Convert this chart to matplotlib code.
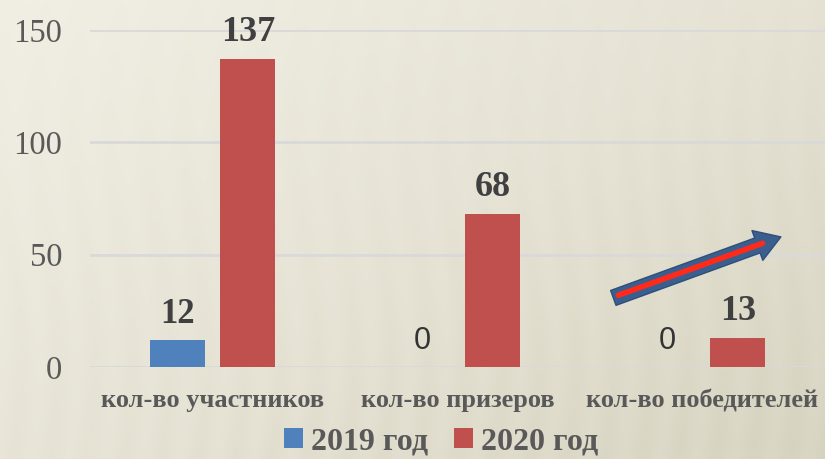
import numpy as np
import matplotlib
matplotlib.use("Agg")
import matplotlib.pyplot as plt
from matplotlib.colors import LinearSegmentedColormap

# Data
categories = ['кол-во участников', 'кол-во призеров', 'кол-во победителей']
series_names = ['2019 год', '2020 год']
values_2019 = [12, 0, 0]
values_2020 = [137, 68, 13]
yticks = [0, 50, 100, 150]

BLUE = '#4f81bd'
RED = '#c0504d'
SERIF = ['Liberation Serif', 'DejaVu Serif']
SANS = ['Liberation Sans', 'DejaVu Sans']

fig = plt.figure(figsize=(8.25, 4.59), dpi=100)

# textured beige background
bg = fig.add_axes([0, 0, 1, 1], zorder=-10)
bg.axis('off')
xx, yy = np.meshgrid(np.linspace(0, 1, 825), np.linspace(0, 1, 459))
shade = 0.55 * xx + 0.45 * yy
shade += 0.04 * np.sin(xx * 140 + 2 * np.sin(yy * 6)) * (0.4 + yy)
cmap = LinearSegmentedColormap.from_list('bg', ['#f1efe4', '#e6e3d5', '#d5d2bf'])
bg.imshow(shade, cmap=cmap, aspect='auto', extent=[0, 1, 0, 1], origin='upper')
bg.set_xlim(0, 1)
bg.set_ylim(0, 1)

ax = fig.add_axes([90 / 825, 92 / 459, 735 / 825, 337 / 459])
ax.patch.set_alpha(0)

x = np.arange(len(categories))
w = 0.2245
off = 0.144
b1 = ax.bar(x - off, values_2019, w, color=BLUE, label=series_names[0], zorder=3)
b2 = ax.bar(x + off, values_2020, w, color=RED, label=series_names[1], zorder=3)

ax.set_xlim(-0.5, len(categories) - 0.5)
ax.set_ylim(0, 150)
ax.set_yticks(yticks)
ax.yaxis.grid(True, color='#d9d9d9', linewidth=2, zorder=0)
for s in ax.spines.values():
    s.set_visible(False)
ax.axhline(0, color='#d9d9d9', linewidth=2, zorder=1)
ax.tick_params(length=0)
ax.tick_params(axis='y', pad=20)
ax.tick_params(axis='x', pad=16)
for lab in ax.get_yticklabels():
    lab.set_family(SERIF)
    lab.set_fontsize(23.5)
    lab.set_color('#595959')
ax.set_xticks(x)
ax.set_xticklabels(categories, family=SERIF, fontsize=19, fontweight='bold', color='#595959')

# value labels
for xi, v in zip(x - off, values_2019):
    if v == 0:
        ax.annotate('0', (xi, v), xytext=(0, 13), textcoords='offset points',
                    ha='center', va='baseline', family=SANS, fontsize=22, color='#333333')
    else:
        ax.annotate(str(v), (xi, v), xytext=(0, 12), textcoords='offset points',
                    ha='center', va='baseline', family=SERIF, fontsize=25,
                    fontweight='bold', color='#404040')
for xi, v in zip(x + off, values_2020):
    ax.annotate(str(v), (xi, v), xytext=(0, 13), textcoords='offset points',
                ha='center', va='baseline', family=SERIF, fontsize=26,
                fontweight='bold', color='#404040', annotation_clip=False)

# growth arrow
ax.annotate('', xy=(0.940, 0.386), xytext=(0.712, 0.205), xycoords='axes fraction',
            arrowprops=dict(arrowstyle='simple,head_width=1.9,head_length=1.5,tail_width=0.95',
                            mutation_scale=12, facecolor='#3a5f8f', edgecolor='#2f4f7a',
                            shrinkA=0, shrinkB=0), zorder=5)
ax.annotate('', xy=(0.915, 0.367), xytext=(0.719, 0.213), xycoords='axes fraction',
            arrowprops=dict(arrowstyle='-', color='#ff2a1a', lw=4,
                            shrinkA=0, shrinkB=0), zorder=6)

leg = fig.legend(handles=[b1, b2], labels=series_names, loc='center',
                 bbox_to_anchor=(441 / 825, 1 - 442 / 459), ncol=2, frameon=False,
                 prop={'family': SERIF, 'size': 23, 'weight': 'bold'},
                 handlelength=0.6, handleheight=0.6, handletextpad=0.25, columnspacing=0.8)
for t in leg.get_texts():
    t.set_color('#595959')

fig.savefig('out.png', dpi=100)
